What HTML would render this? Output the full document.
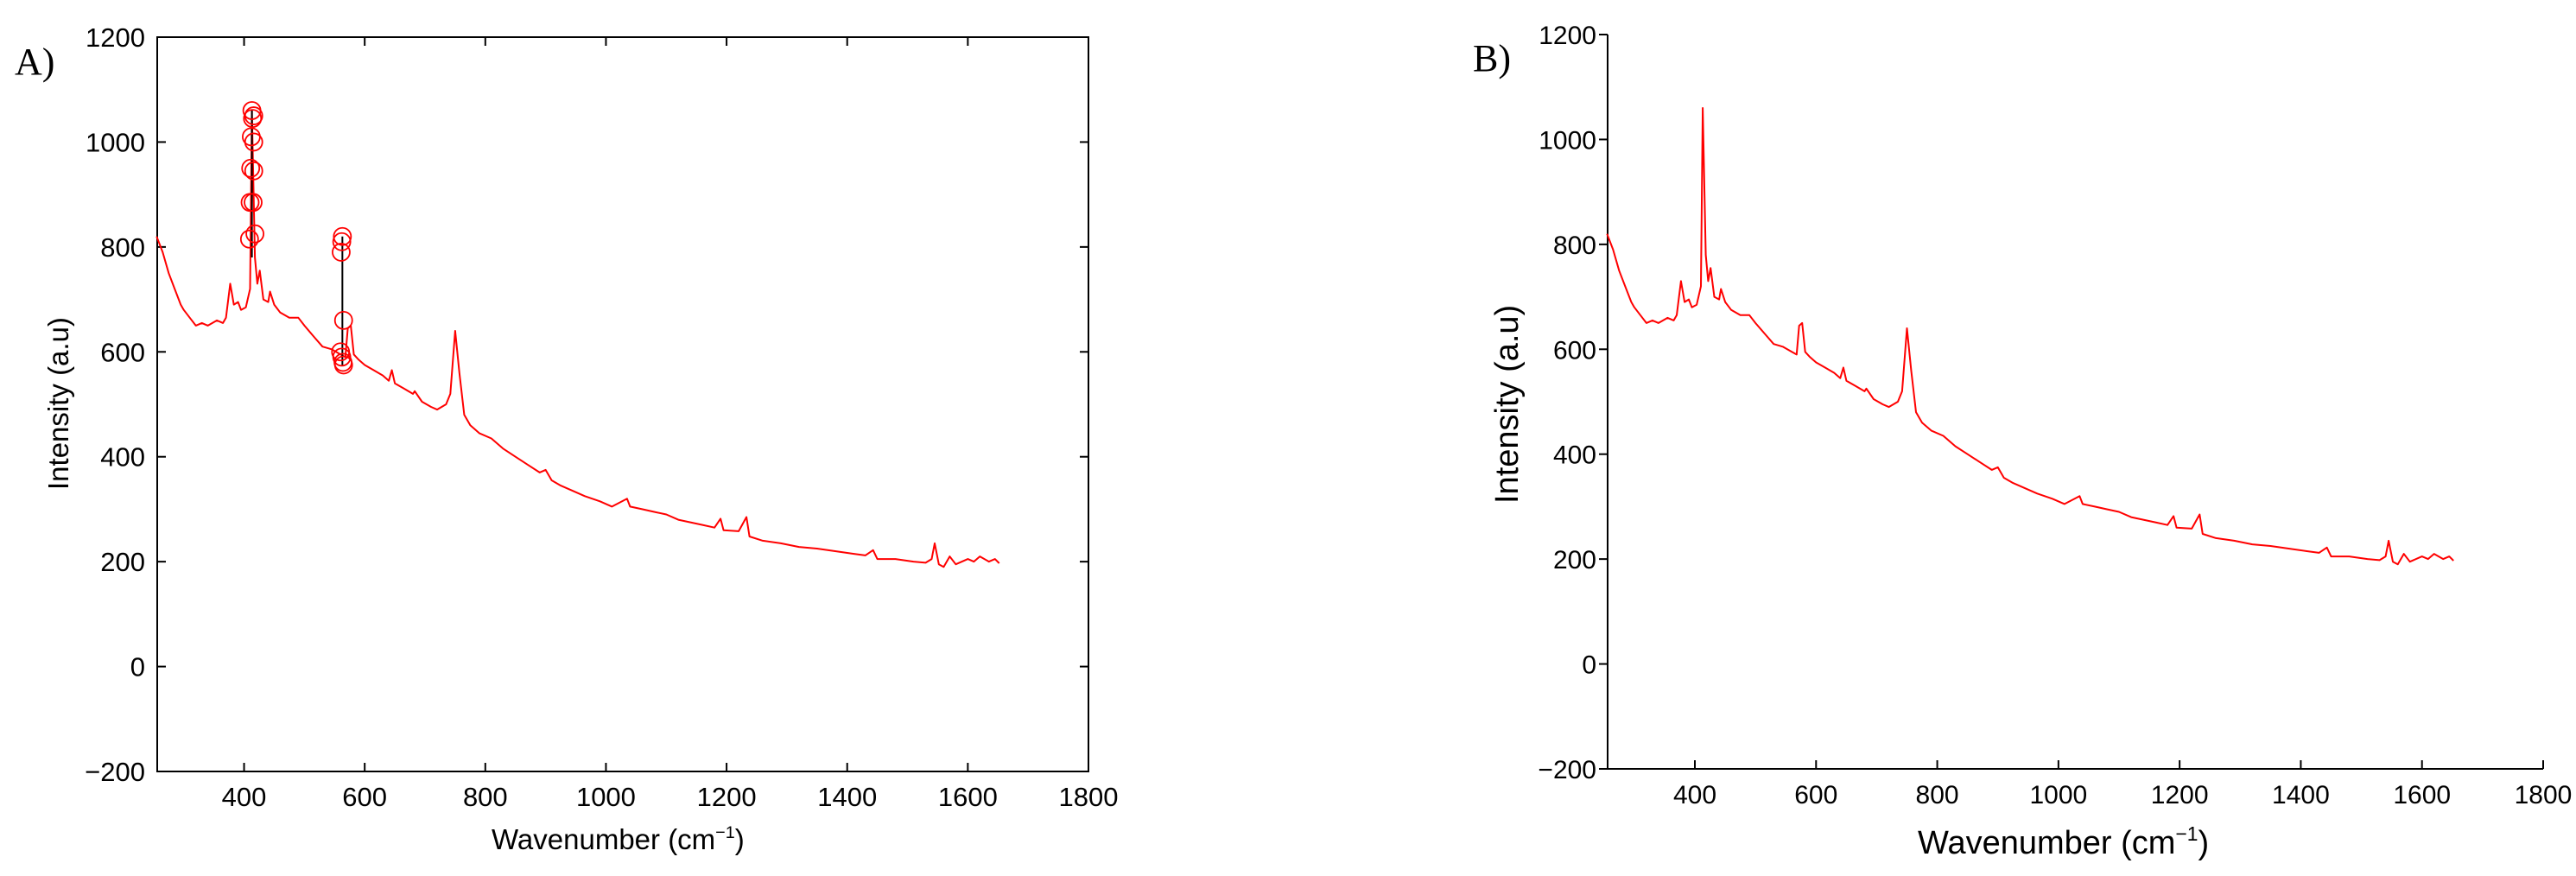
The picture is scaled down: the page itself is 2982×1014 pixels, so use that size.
<!DOCTYPE html>
<html><head><meta charset="utf-8"><style>html,body{margin:0;padding:0;background:#fff;overflow:hidden}svg{display:block}</style></head>
<body>
<svg id="chart" width="2982" height="1014" viewBox="0 0 2982 1014" xmlns="http://www.w3.org/2000/svg">
<rect width="2982" height="1014" fill="#fff"/>
<g id="pA"></g>
<g id="pB"></g>
</svg>
<script>
const wavenumbers=[255,265,275,285,295,300,310,320,330,340,355,365,370,377,383,390,395,403,410,413,418,422,426,432,440,443,450,460,475,490,500,515,530,545,560,568,572,577,582,590,600,615,630,640,645,650,665,680,683,695,710,720,735,742,750,757,765,775,790,810,830,850,870,890,900,910,925,945,965,990,1010,1035,1040,1060,1080,1100,1120,1140,1160,1180,1190,1195,1220,1233,1238,1260,1290,1320,1350,1380,1410,1430,1443,1450,1480,1510,1530,1540,1545,1552,1560,1570,1580,1600,1610,1620,1635,1645,1652];
const intensities=[820,790,750,720,690,680,665,650,655,650,660,655,665,730,690,695,680,685,720,1060,780,730,755,700,695,715,690,675,665,665,650,630,610,605,595,590,645,650,595,585,575,565,555,545,565,540,530,520,525,505,495,490,500,520,640,560,480,460,445,435,415,400,385,370,375,355,345,335,325,315,305,320,305,300,295,290,280,275,270,265,282,260,258,285,248,240,235,228,225,220,215,212,222,205,205,200,198,205,235,195,190,210,195,205,200,210,200,205,197];
const spikeAx=[413,563];
const spikeAlow=[780,575];
const spikeAhigh=[1060,820];
const circlesAx=[413,416,414,412,416,411,416,410,415,409,418,563,562,561,565,560,562,564,565];
const circlesAy=[1060,1050,1045,1010,1000,950,945,885,885,815,825,820,810,790,660,600,590,580,575];
const xTicks=[400,600,800,1000,1200,1400,1600,1800];
const yTicks=[-200,0,200,400,600,800,1000,1200];
const NS="http://www.w3.org/2000/svg";
function mk(p,tag,at,txt){const e=document.createElementNS(NS,tag);for(const k in at)e.setAttribute(k,at[k]);if(txt!==undefined)e.textContent=txt;p.appendChild(e);return e;}
function panel(g,L,R,T,B,full,label,lx,ly,ylx,ylStart,ylFs,xlx,xly,xlFs,tickFs){
  const X=v=>L+(v-256)/(1800-256)*(R-L);
  const Y=v=>B-(v+200)/1400*(B-T);
  let e;
  if(full){e=mk(g,'rect',{x:L,y:T,width:R-L,height:B-T,fill:'none',stroke:'#000','stroke-width':2});}
  else{e=mk(g,'path',{d:`M${L},${T}V${B}H${R}`,fill:'none',stroke:'#000','stroke-width':2});}
  xTicks.forEach(t=>{const x=X(t);
    e=mk(g,'line',{x1:x,y1:B,x2:x,y2:B-10,stroke:'#000','stroke-width':2});
    if(full){e=mk(g,'line',{x1:x,y1:T,x2:x,y2:T+10,stroke:'#000','stroke-width':2});}
    const s=String(t);
    e=mk(g,'text',{x:x,y:B+40,'text-anchor':'middle','font-family':'Liberation Sans, sans-serif','font-size':tickFs},s);});
  yTicks.forEach(t=>{const y=Y(t);
    e=mk(g,'line',{x1:L,y1:y,x2:full?L+10:L-10,y2:y,stroke:'#000','stroke-width':2});
    if(full){e=mk(g,'line',{x1:R,y1:y,x2:R-10,y2:y,stroke:'#000','stroke-width':2});}
    const s=t<0?'\u2212'+(-t):String(t);
    e=mk(g,'text',{x:full?L-14:L-13,y:y+11,'text-anchor':'end','font-family':'Liberation Sans, sans-serif','font-size':tickFs},s);});
  const d=wavenumbers.map((w,i)=>(i?'L':'M')+X(w).toFixed(1)+','+Y(intensities[i]).toFixed(1)).join('');
  e=mk(g,'path',{d:d,fill:'none',stroke:'#f00','stroke-width':2,'stroke-linejoin':'round'});
  e=mk(g,'text',{x:lx,y:ly,'font-family':'Liberation Serif, serif','font-size':44},label);
  e=mk(g,'text',{x:0,y:0,transform:`translate(${ylx},${ylStart}) rotate(-90)`,'text-anchor':'start','font-family':'Liberation Sans, sans-serif','font-size':ylFs},'Intensity (a.u)');
  e=mk(g,'text',{x:xlx,y:xly,'font-family':'Liberation Sans, sans-serif','font-size':xlFs});
  mk(e,'tspan',{},'Wavenumber (cm');mk(e,'tspan',{dy:-xlFs*0.4,'font-size':xlFs*0.6},'\u22121');mk(e,'tspan',{dy:xlFs*0.4},')');
  return {X,Y};
}
const gA=document.getElementById('pA'),gB=document.getElementById('pB');
const A=panel(gA,182,1260,43,893,true,'A)',17,86,79,567,33,569,983,33,31);
panel(gB,1861,2944,40,890,false,'B)',1705,82,1757,583,38,2220,988,38,30);
spikeAx.forEach((x,i)=>{const e=mk(gA,'line',{x1:A.X(x),y1:A.Y(spikeAlow[i]),x2:A.X(x),y2:A.Y(spikeAhigh[i]),stroke:'#000','stroke-width':2});
  
  });
circlesAx.forEach((x,i)=>{const e=mk(gA,'circle',{cx:A.X(x),cy:A.Y(circlesAy[i]),r:10,fill:'none',stroke:'#f00','stroke-width':1.8});
  
  });
</script>
</body></html>
